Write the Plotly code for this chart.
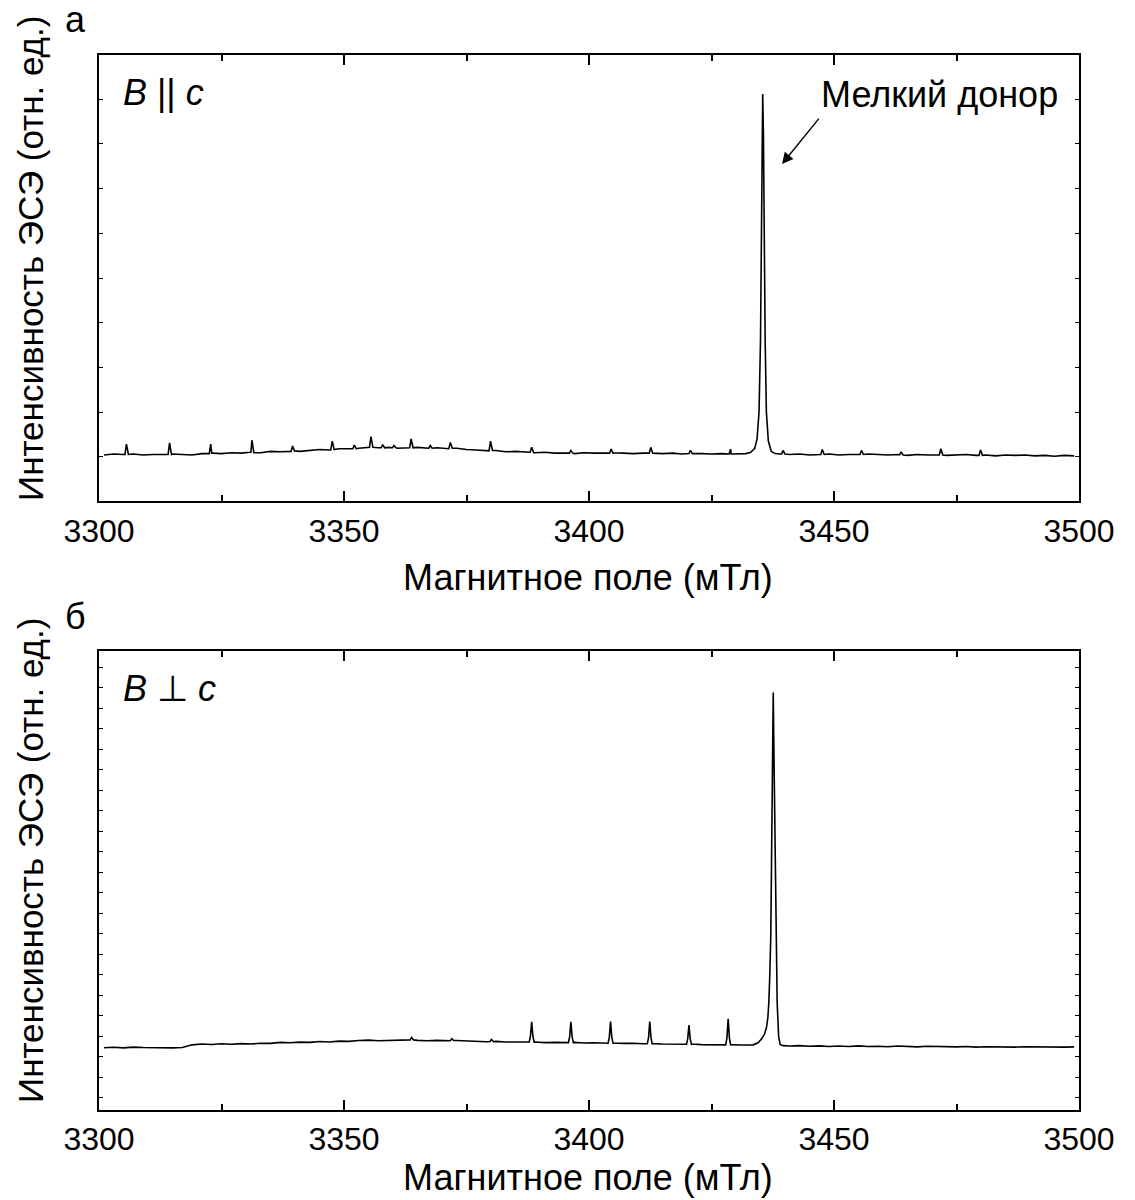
import plotly.graph_objects as go

# ---------------- Panel (а): B || c ----------------
field_a_base = [3301, 3303, 3305, 3307, 3309, 3311, 3313, 3315, 3317, 3319,
                3321, 3323, 3325, 3327, 3329, 3331, 3333, 3335, 3337, 3339,
                3341, 3343, 3345, 3347, 3349, 3351, 3353, 3355, 3357, 3359,
                3361, 3363, 3365, 3367, 3369, 3371, 3373, 3375, 3377, 3379,
                3381, 3383, 3385, 3387, 3389, 3391, 3393, 3395, 3397, 3399,
                3401, 3403, 3405, 3407, 3409, 3411, 3413, 3415, 3417, 3419,
                3421, 3423, 3425, 3427, 3429, 3431,
                3439, 3441, 3443, 3445, 3447, 3449, 3451, 3453, 3455, 3457,
                3459, 3461, 3463, 3465, 3467, 3469, 3471, 3473, 3475, 3477,
                3479, 3481, 3483, 3485, 3487, 3489, 3491, 3493, 3495, 3497, 3499]
signal_a_base = [1.04, 1.06, 1.05, 1.06, 1.04, 1.05, 1.04, 1.06, 1.05, 1.04,
                 1.07, 1.08, 1.07, 1.09, 1.08, 1.10, 1.09, 1.12, 1.11, 1.13,
                 1.12, 1.14, 1.16, 1.15, 1.18, 1.17, 1.19, 1.21, 1.20, 1.21,
                 1.19, 1.20, 1.21, 1.19, 1.20, 1.18, 1.19, 1.16, 1.15, 1.13,
                 1.14, 1.11, 1.12, 1.10, 1.09, 1.10, 1.08, 1.09, 1.07, 1.09,
                 1.08, 1.07, 1.09, 1.08, 1.07, 1.08, 1.09, 1.07, 1.08, 1.06,
                 1.08, 1.07, 1.06, 1.07, 1.06, 1.07,
                 1.06, 1.05, 1.06, 1.04, 1.05, 1.06, 1.04, 1.05, 1.04, 1.06,
                 1.05, 1.04, 1.05, 1.03, 1.05, 1.04, 1.05, 1.03, 1.04, 1.05,
                 1.03, 1.04, 1.02, 1.04, 1.03, 1.04, 1.02, 1.03, 1.01, 1.03, 1.02]

field_a_spikes = [3305.3, 3305.6, 3306.0, 3314.1, 3314.4, 3314.8, 3322.5, 3322.8, 3323.2,
                  3330.9, 3331.2, 3331.6, 3339.2, 3339.5, 3339.9, 3347.3, 3347.6, 3348.0,
                  3351.8, 3352.1, 3352.5, 3355.2, 3355.5, 3355.9, 3357.6, 3357.9, 3358.3,
                  3359.9, 3360.2, 3360.6, 3363.4, 3363.7, 3364.1, 3367.3, 3367.6, 3368.0,
                  3371.4, 3371.7, 3372.1, 3379.6, 3379.9, 3380.3, 3388.0, 3388.3, 3388.7,
                  3396.0, 3396.3, 3396.7, 3404.2, 3404.5, 3404.9, 3412.3, 3412.6, 3413.0,
                  3420.4, 3420.7, 3421.1, 3428.6, 3428.9, 3429.3, 3439.3, 3439.6, 3440.0,
                  3447.3, 3447.6, 3448.0, 3455.3, 3455.6, 3456.0, 3463.4, 3463.7, 3464.1,
                  3471.5, 3471.8, 3472.2, 3479.6, 3479.9, 3480.3]
signal_a_spikes = [1.05, 1.28, 1.05, 1.05, 1.31, 1.05, 1.07, 1.28, 1.08,
                   1.10, 1.37, 1.09, 1.12, 1.24, 1.13, 1.15, 1.35, 1.16,
                   1.18, 1.26, 1.18, 1.21, 1.45, 1.21, 1.20, 1.27, 1.20,
                   1.20, 1.25, 1.20, 1.20, 1.40, 1.20, 1.19, 1.25, 1.19,
                   1.18, 1.32, 1.19, 1.13, 1.35, 1.14, 1.10, 1.21, 1.09,
                   1.08, 1.14, 1.08, 1.08, 1.17, 1.08, 1.08, 1.21, 1.08,
                   1.07, 1.14, 1.07, 1.06, 1.17, 1.06, 1.06, 1.14, 1.06,
                   1.05, 1.16, 1.05, 1.05, 1.14, 1.05, 1.04, 1.11, 1.04,
                   1.04, 1.18, 1.04, 1.03, 1.15, 1.03]

field_a_main = [3432.0, 3433.0, 3433.8, 3434.3, 3434.7, 3435.0, 3435.2, 3435.35, 3435.45,
                3435.6, 3435.75, 3435.95, 3436.2, 3436.6, 3437.2, 3438.0]
signal_a_main = [1.07, 1.10, 1.18, 1.40, 2.00, 3.60, 5.80, 8.00, 9.12,
                 8.20, 6.00, 3.60, 2.00, 1.35, 1.12, 1.07]

# ---------------- Panel (б): B ⊥ c ----------------
field_b_base = [3301, 3303, 3305, 3307, 3309, 3311, 3313, 3315, 3317, 3319,
                3321, 3323, 3325, 3327, 3329, 3331, 3333, 3335, 3337, 3339,
                3341, 3343, 3345, 3347, 3349, 3351, 3353, 3355, 3357, 3359,
                3361, 3363, 3365, 3367, 3369, 3371, 3373, 3375, 3377, 3379,
                3381, 3383, 3385, 3387, 3389, 3391, 3393, 3395, 3397, 3399,
                3401, 3403, 3405, 3407, 3409, 3411, 3413, 3415, 3417, 3419,
                3421, 3423, 3425, 3427, 3429, 3431, 3433,
                3441, 3443, 3445, 3447, 3449, 3451, 3453, 3455, 3457, 3459,
                3461, 3463, 3465, 3467, 3469, 3471, 3473, 3475, 3477, 3479,
                3481, 3483, 3485, 3487, 3489, 3491, 3493, 3495, 3497, 3499]
signal_b_base = [2.44, 2.46, 2.43, 2.47, 2.45, 2.44, 2.46, 2.43, 2.45, 2.58,
                 2.62, 2.60, 2.63, 2.61, 2.64, 2.62, 2.66, 2.65, 2.70, 2.68,
                 2.71, 2.70, 2.74, 2.72, 2.76, 2.75, 2.79, 2.81, 2.78, 2.80,
                 2.79, 2.82, 2.80, 2.78, 2.80, 2.77, 2.79, 2.76, 2.74, 2.73,
                 2.75, 2.72, 2.73, 2.71, 2.72, 2.69, 2.70, 2.68, 2.70, 2.67,
                 2.68, 2.66, 2.67, 2.65, 2.66, 2.63, 2.64, 2.62, 2.63, 2.61,
                 2.62, 2.59, 2.60, 2.58, 2.59, 2.57, 2.56,
                 2.52, 2.54, 2.51, 2.53, 2.50, 2.52, 2.50, 2.53, 2.50, 2.51,
                 2.49, 2.52, 2.50, 2.48, 2.51, 2.49, 2.50, 2.48, 2.50, 2.47,
                 2.49, 2.48, 2.50, 2.47, 2.49, 2.48, 2.46, 2.48, 2.47, 2.48]

field_b_spikes = [3363.5, 3363.8, 3364.2, 3371.7, 3372.0, 3372.4, 3379.8, 3380.1, 3380.5,
                  3387.8, 3388.05, 3388.3, 3388.55, 3388.8,
                  3395.8, 3396.05, 3396.3, 3396.55, 3396.8,
                  3403.9, 3404.15, 3404.4, 3404.65, 3404.9,
                  3411.9, 3412.15, 3412.4, 3412.65, 3412.9,
                  3419.9, 3420.15, 3420.4, 3420.65, 3420.9,
                  3427.9, 3428.15, 3428.4, 3428.65, 3428.9]
signal_b_spikes = [2.82, 2.94, 2.82, 2.78, 2.88, 2.79, 2.74, 2.84, 2.74,
                   2.72, 3.00, 3.70, 3.00, 2.71,
                   2.69, 2.98, 3.70, 2.98, 2.69,
                   2.66, 2.96, 3.72, 2.96, 2.66,
                   2.63, 2.93, 3.72, 2.93, 2.63,
                   2.61, 2.88, 3.54, 2.88, 2.61,
                   2.58, 2.92, 3.85, 2.92, 2.58]

field_b_main = [3433.5, 3434.5, 3435.2, 3435.8, 3436.2, 3436.5, 3436.7, 3436.9, 3437.1,
                3437.3, 3437.5, 3437.6, 3437.7, 3437.85, 3438.0, 3438.2, 3438.4,
                3438.7, 3439.0, 3439.6]
signal_b_main = [2.58, 2.68, 2.86, 3.10, 3.40, 3.90, 4.65, 6.00, 7.90,
                 12.70, 17.60, 19.77, 17.60, 14.50, 12.00, 7.90, 4.65,
                 3.00, 2.60, 2.54]

x_ticks = [3300, 3350, 3400, 3450, 3500]
x_tick_labels = ["3300", "3350", "3400", "3450", "3500"]

panel_letters = ["а", "б"]
orientation_labels = ["<i>B</i> || <i>c</i>", "<i>B</i> ⊥ <i>c</i>"]
x_title = "Магнитное поле (мТл)"
y_title = "Интенсивность ЭСЭ (отн. ед.)"
donor_label = "Мелкий донор"


def merged(*pairs):
    pts = []
    for xs, ys in pairs:
        pts.extend(zip(xs, ys))
    pts.sort(key=lambda p: p[0])
    return [p[0] for p in pts], [p[1] for p in pts]


xa, ya = merged((field_a_base, signal_a_base), (field_a_spikes, signal_a_spikes),
                (field_a_main, signal_a_main))
xb, yb = merged((field_b_base, signal_b_base), (field_b_spikes, signal_b_spikes),
                (field_b_main, signal_b_main))

W, H = 1135, 1200


def px(x):
    return x / W


def py(y):
    return 1 - y / H


FONT = "Liberation Sans, Arial, sans-serif"

fig = go.Figure()
fig.add_trace(go.Scatter(x=xa, y=ya, mode="lines", line=dict(color="black", width=1.6),
                         xaxis="x", yaxis="y", showlegend=False))
fig.add_trace(go.Scatter(x=xb, y=yb, mode="lines", line=dict(color="black", width=1.6),
                         xaxis="x2", yaxis="y2", showlegend=False))

xdom = [px(99), px(1079)]

common_x = dict(range=[3300, 3500], tickvals=x_ticks, ticktext=x_tick_labels,
                ticks="inside", ticklen=10, tickwidth=1.5, tickcolor="black",
                showline=True, linewidth=2, linecolor="black", mirror="ticks",
                showgrid=False, zeroline=False, automargin=False,
                tickfont=dict(family=FONT, size=32, color="black"),
                minor=dict(ticks="inside", ticklen=6, tickwidth=1.5, tickcolor="black",
                           dtick=25, tick0=3300, showgrid=False))
common_y = dict(ticks="inside", ticklen=4, tickwidth=1.2, tickcolor="black",
                showline=True, linewidth=2, linecolor="black", mirror="ticks",
                showticklabels=False, showgrid=False, zeroline=False, automargin=False,
                dtick=1)

fig.update_layout(
    width=W, height=H,
    margin=dict(l=0, r=0, t=0, b=0),
    paper_bgcolor="white", plot_bgcolor="white",
    font=dict(family=FONT, color="black"),
    xaxis=dict(domain=xdom, anchor="y", **common_x),
    yaxis=dict(domain=[py(501.4), py(54.6)], anchor="x", range=[0, 10], tick0=0, **common_y),
    xaxis2=dict(domain=xdom, anchor="y2", **common_x),
    yaxis2=dict(domain=[py(1110), py(651)], anchor="x2", range=[-0.6, 21.8], tick0=0, **common_y),
)

ann = []
# axis titles
for yc in (577, 1177):
    ann.append(dict(text=x_title, xref="paper", yref="paper", x=px(588), y=py(yc),
                    showarrow=False, font=dict(family=FONT, size=36), xanchor="center",
                    yanchor="middle"))
for yc in (259, 861):
    ann.append(dict(text=y_title, xref="paper", yref="paper", x=px(30), y=py(yc),
                    textangle=-90, showarrow=False, font=dict(family=FONT, size=35),
                    xanchor="center", yanchor="middle"))
# panel letters
ann.append(dict(text=panel_letters[0], xref="paper", yref="paper", x=px(75), y=py(19),
                xanchor="center", yanchor="middle",
                showarrow=False, font=dict(family=FONT, size=36)))
ann.append(dict(text=panel_letters[1], xref="paper", yref="paper", x=px(75), y=py(616),
                xanchor="center", yanchor="middle",
                showarrow=False, font=dict(family=FONT, size=36)))
# orientation labels
ann.append(dict(text=orientation_labels[0], xref="paper", yref="paper", x=px(121), y=py(92),
                xanchor="left", yanchor="middle", showarrow=False,
                font=dict(family=FONT, size=36)))
ann.append(dict(text=orientation_labels[1], xref="paper", yref="paper", x=px(121), y=py(688),
                xanchor="left", yanchor="middle", showarrow=False,
                font=dict(family=FONT, size=36)))
# donor label and arrow
ann.append(dict(text=donor_label, xref="paper", yref="paper", x=px(939), y=py(95),
                xanchor="center", yanchor="middle", showarrow=False,
                font=dict(family=FONT, size=36)))
ann.append(dict(text="", xref="x", yref="y", x=3439.4, y=7.55, ax=38, ay=-47,
                axref="pixel", ayref="pixel", showarrow=True, arrowhead=2,
                arrowsize=1.6, arrowwidth=1.4, arrowcolor="black"))

fig.update_layout(annotations=ann)

fig.write_html("out.html")
